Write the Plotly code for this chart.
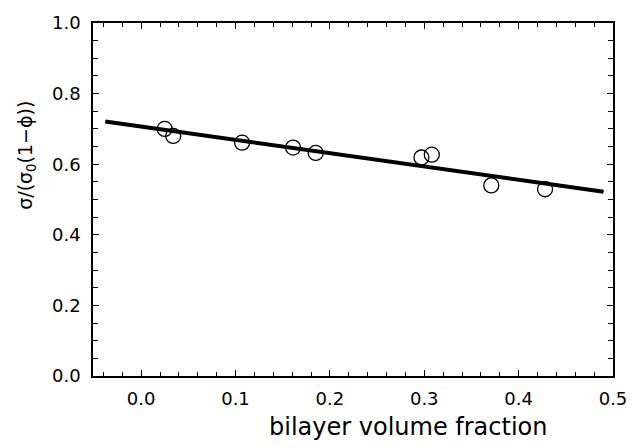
import plotly.graph_objects as go

# Data points (bilayer volume fraction, normalized conductivity)
phi = [0.025, 0.034, 0.107, 0.161, 0.185, 0.297, 0.308, 0.371, 0.428]
sigma_norm = [0.700, 0.680, 0.661, 0.647, 0.632, 0.619, 0.627, 0.540, 0.529]

# Linear fit endpoints
fit_x = [-0.038, 0.49]
fit_y = [0.721, 0.522]

x_ticks = [0.0, 0.1, 0.2, 0.3, 0.4, 0.5]
y_ticks = [0.0, 0.2, 0.4, 0.6, 0.8, 1.0]

fig = go.Figure()
fig.add_trace(go.Scatter(
    x=fit_x, y=fit_y, mode="lines",
    line=dict(color="black", width=4), showlegend=False))
fig.add_trace(go.Scatter(
    x=phi, y=sigma_norm, mode="markers",
    marker=dict(symbol="circle-open", size=15, color="black", line=dict(width=1.3)),
    showlegend=False))

font_family = "DejaVu Sans, Liberation Sans, Arial, sans-serif"

fig.update_layout(
    width=639, height=447,
    margin=dict(l=93, r=18, t=19, b=71),
    paper_bgcolor="white", plot_bgcolor="white",
    font=dict(family=font_family, color="black", size=18),
    xaxis=dict(
        range=[-0.051, 0.5], tickvals=x_ticks,
        ticktext=[f"{v:.1f}" for v in x_ticks],
        ticks="inside", ticklen=6, tickwidth=1.2, tickcolor="black",
        minor=dict(dtick=0.02, tick0=0, ticks="inside", ticklen=4, tickwidth=1, tickcolor="black"),
        showline=True, linecolor="black", linewidth=1.5, mirror="ticks",
        showgrid=False, zeroline=False,
        tickfont=dict(size=18), ticklabelstandoff=6,
    ),
    yaxis=dict(
        range=[0, 1.0], tickvals=y_ticks,
        ticktext=[f"{v:.1f}" for v in y_ticks],
        ticks="inside", ticklen=6, tickwidth=1.2, tickcolor="black",
        minor=dict(dtick=0.05, tick0=0, ticks="inside", ticklen=5, tickwidth=1, tickcolor="black"),
        showline=True, linecolor="black", linewidth=1.5, mirror="ticks",
        showgrid=False, zeroline=False,
        tickfont=dict(size=18), ticklabelstandoff=7,
    ),
    annotations=[
        dict(
            text="σ/(σ<sub>0</sub>(1−ϕ))", textangle=-90,
            xref="paper", yref="paper", x=-0.128, y=0.625,
            xanchor="center", yanchor="middle", showarrow=False,
            font=dict(size=19, family=font_family, color="black"),
        ),
        dict(
            text="bilayer volume fraction",
            xref="paper", yref="paper", x=0.605, y=-0.145,
            xanchor="center", yanchor="middle", showarrow=False,
            font=dict(size=24, family=font_family, color="black"),
        ),
    ],
)

fig.write_html("out.html")
